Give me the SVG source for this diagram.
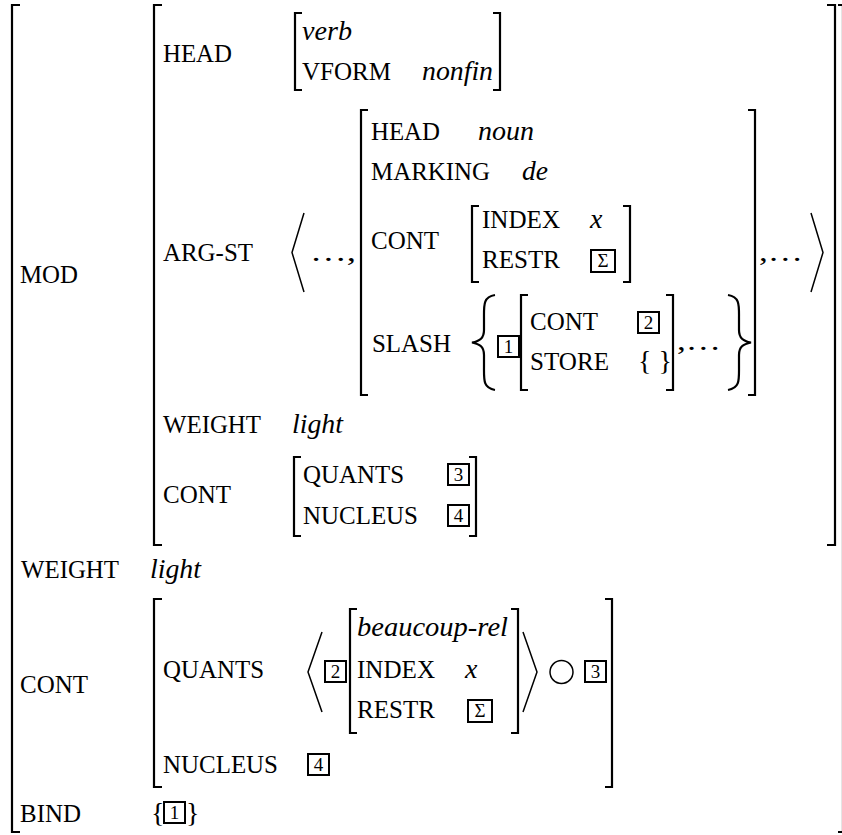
<svg xmlns="http://www.w3.org/2000/svg" width="842" height="835" viewBox="0 0 842 835" font-family="'Liberation Serif', Tinos, 'DejaVu Serif', 'Noto Serif', 'Times New Roman', serif">
<style>
.lbl{font-size:25px}
.val{font-size:28px;font-style:italic}
.pl{font-size:28px}
.br{fill:none;stroke:#000;stroke-width:2.2}
.ang{fill:none;stroke:#000;stroke-width:1.5}
.box{fill:none;stroke:#000;stroke-width:2}
.num{font-size:19px;text-anchor:middle}
</style>
<rect width="842" height="835" fill="#fff"/>

<g id="outer">
<path class="br" d="M20,5H12V832H20"/>
<path class="br" d="M838,5H843V832H838"/>
<text class="lbl" x="20" y="283" textLength="58" lengthAdjust="spacingAndGlyphs">MOD</text>
<text class="lbl" x="21" y="578" textLength="98" lengthAdjust="spacingAndGlyphs">WEIGHT</text>
<text class="val" x="150" y="578" textLength="51" lengthAdjust="spacingAndGlyphs">light</text>
<text class="lbl" x="20" y="693" textLength="68" lengthAdjust="spacingAndGlyphs">CONT</text>
<text class="lbl" x="20" y="822" textLength="61" lengthAdjust="spacingAndGlyphs">BIND</text>
<text class="pl" x="151" y="822">{</text>
<rect class="box" x="164" y="802" width="21" height="21"/>
<text class="num" x="174.5" y="819">1</text>
<text class="pl" x="186" y="822">}</text>
</g>

<g id="mod">
<path class="br" d="M162,5H154V545H162"/>
<path class="br" d="M827,5H835V545H827"/>
<text class="lbl" x="163" y="62" textLength="69" lengthAdjust="spacingAndGlyphs">HEAD</text>
<text class="lbl" x="163" y="261" textLength="90" lengthAdjust="spacingAndGlyphs">ARG-ST</text>
<text class="lbl" x="163" y="433" textLength="98" lengthAdjust="spacingAndGlyphs">WEIGHT</text>
<text class="val" x="292" y="433" textLength="51" lengthAdjust="spacingAndGlyphs">light</text>
<text class="lbl" x="163" y="503" textLength="68" lengthAdjust="spacingAndGlyphs">CONT</text>
</g>

<g id="mod-head">
<path class="br" d="M302,13H295V90H302"/>
<path class="br" d="M493,13H500V90H493"/>
<text class="val" x="302" y="40" textLength="50" lengthAdjust="spacingAndGlyphs">verb</text>
<text class="lbl" x="302" y="80" textLength="89" lengthAdjust="spacingAndGlyphs">VFORM</text>
<text class="val" x="422" y="80" textLength="71" lengthAdjust="spacingAndGlyphs">nonfin</text>
</g>

<g id="arg-st-list">
<path class="ang" d="M304,213L292,252.5L304,292"/>
<text class="pl" x="310" y="261" textLength="46" lengthAdjust="spacingAndGlyphs">…,</text>
<text class="pl" x="759" y="261" textLength="44" lengthAdjust="spacingAndGlyphs">,…</text>
<path class="ang" d="M811,213L823,252.5L811,292"/>
</g>

<g id="arg">
<path class="br" d="M368,110H361V395H368"/>
<path class="br" d="M748,110H755V395H748"/>
<text class="lbl" x="371" y="140" textLength="69" lengthAdjust="spacingAndGlyphs">HEAD</text>
<text class="val" x="478" y="140" textLength="56" lengthAdjust="spacingAndGlyphs">noun</text>
<text class="lbl" x="371" y="180" textLength="119" lengthAdjust="spacingAndGlyphs">MARKING</text>
<text class="val" x="522" y="180" textLength="26" lengthAdjust="spacingAndGlyphs">de</text>
<text class="lbl" x="371" y="249" textLength="68" lengthAdjust="spacingAndGlyphs">CONT</text>
<text class="lbl" x="372" y="352" textLength="79" lengthAdjust="spacingAndGlyphs">SLASH</text>
</g>

<g id="arg-cont">
<path class="br" d="M479,206H472V282H479"/>
<path class="br" d="M623,206H630V282H623"/>
<text class="lbl" x="482" y="228" textLength="78" lengthAdjust="spacingAndGlyphs">INDEX</text>
<text class="val" x="590" y="228">x</text>
<text class="lbl" x="482" y="268" textLength="78" lengthAdjust="spacingAndGlyphs">RESTR</text>
<rect class="box" x="591" y="250" width="24" height="22"/>
<text class="num" x="603" y="267">Σ</text>
</g>

<g id="arg-slash">
<path class="br" d="M495,295C483,297 484,305 484,318L484,330C484,338 480,341 472,342.5C480,344 484,347 484,355L484,367C484,380 483,388 495,390"/>
<rect class="box" x="498" y="336" width="21" height="21"/>
<text class="num" x="508.5" y="353">1</text>
<path class="br" d="M528,295H521V390H528"/>
<path class="br" d="M666,295H673V390H666"/>
<text class="lbl" x="530" y="330" textLength="68" lengthAdjust="spacingAndGlyphs">CONT</text>
<rect class="box" x="638" y="312" width="21" height="21"/>
<text class="num" x="648.5" y="329">2</text>
<text class="lbl" x="530" y="370" textLength="79" lengthAdjust="spacingAndGlyphs">STORE</text>
<text class="pl" x="638" y="370">{ }</text>
<text class="pl" x="677" y="350" textLength="44" lengthAdjust="spacingAndGlyphs">,…</text>
<path class="br" d="M728,295C740,297 739,305 739,318L739,330C739,338 743,341 751,342.5C743,344 739,347 739,355L739,367C739,380 740,388 728,390"/>
</g>

<g id="mod-cont">
<path class="br" d="M301,457H294V536H301"/>
<path class="br" d="M469,457H476V536H469"/>
<text class="lbl" x="303" y="483" textLength="101" lengthAdjust="spacingAndGlyphs">QUANTS</text>
<rect class="box" x="448" y="464" width="21" height="21"/>
<text class="num" x="458.5" y="481">3</text>
<text class="lbl" x="303" y="524" textLength="115" lengthAdjust="spacingAndGlyphs">NUCLEUS</text>
<rect class="box" x="448" y="505" width="21" height="21"/>
<text class="num" x="458.5" y="522">4</text>
</g>

<g id="cont">
<path class="br" d="M162,599H154V787H162"/>
<path class="br" d="M605,599H612V787H605"/>
<text class="lbl" x="163" y="678" textLength="101" lengthAdjust="spacingAndGlyphs">QUANTS</text>
<path class="ang" d="M322,632L308,672L322,712"/>
<rect class="box" x="325" y="661" width="21" height="21"/>
<text class="num" x="335.5" y="678">2</text>
<path class="ang" d="M523,632L537,672L523,712"/>
<circle cx="561.5" cy="672" r="11.5" class="ang"/>
<rect class="box" x="585" y="661" width="21" height="21"/>
<text class="num" x="595.5" y="678">3</text>
<text class="lbl" x="163" y="773" textLength="115" lengthAdjust="spacingAndGlyphs">NUCLEUS</text>
<rect class="box" x="308" y="754" width="21" height="21"/>
<text class="num" x="318.5" y="771">4</text>
</g>

<g id="beaucoup">
<path class="br" d="M357,609H350V733H357"/>
<path class="br" d="M511,609H518V733H511"/>
<text class="val" x="357" y="636" textLength="151" lengthAdjust="spacingAndGlyphs">beaucoup-rel</text>
<text class="lbl" x="357" y="678" textLength="78" lengthAdjust="spacingAndGlyphs">INDEX</text>
<text class="val" x="465" y="678">x</text>
<text class="lbl" x="357" y="718" textLength="78" lengthAdjust="spacingAndGlyphs">RESTR</text>
<rect class="box" x="468" y="700" width="24" height="22"/>
<text class="num" x="480" y="717">Σ</text>
</g>
</svg>
